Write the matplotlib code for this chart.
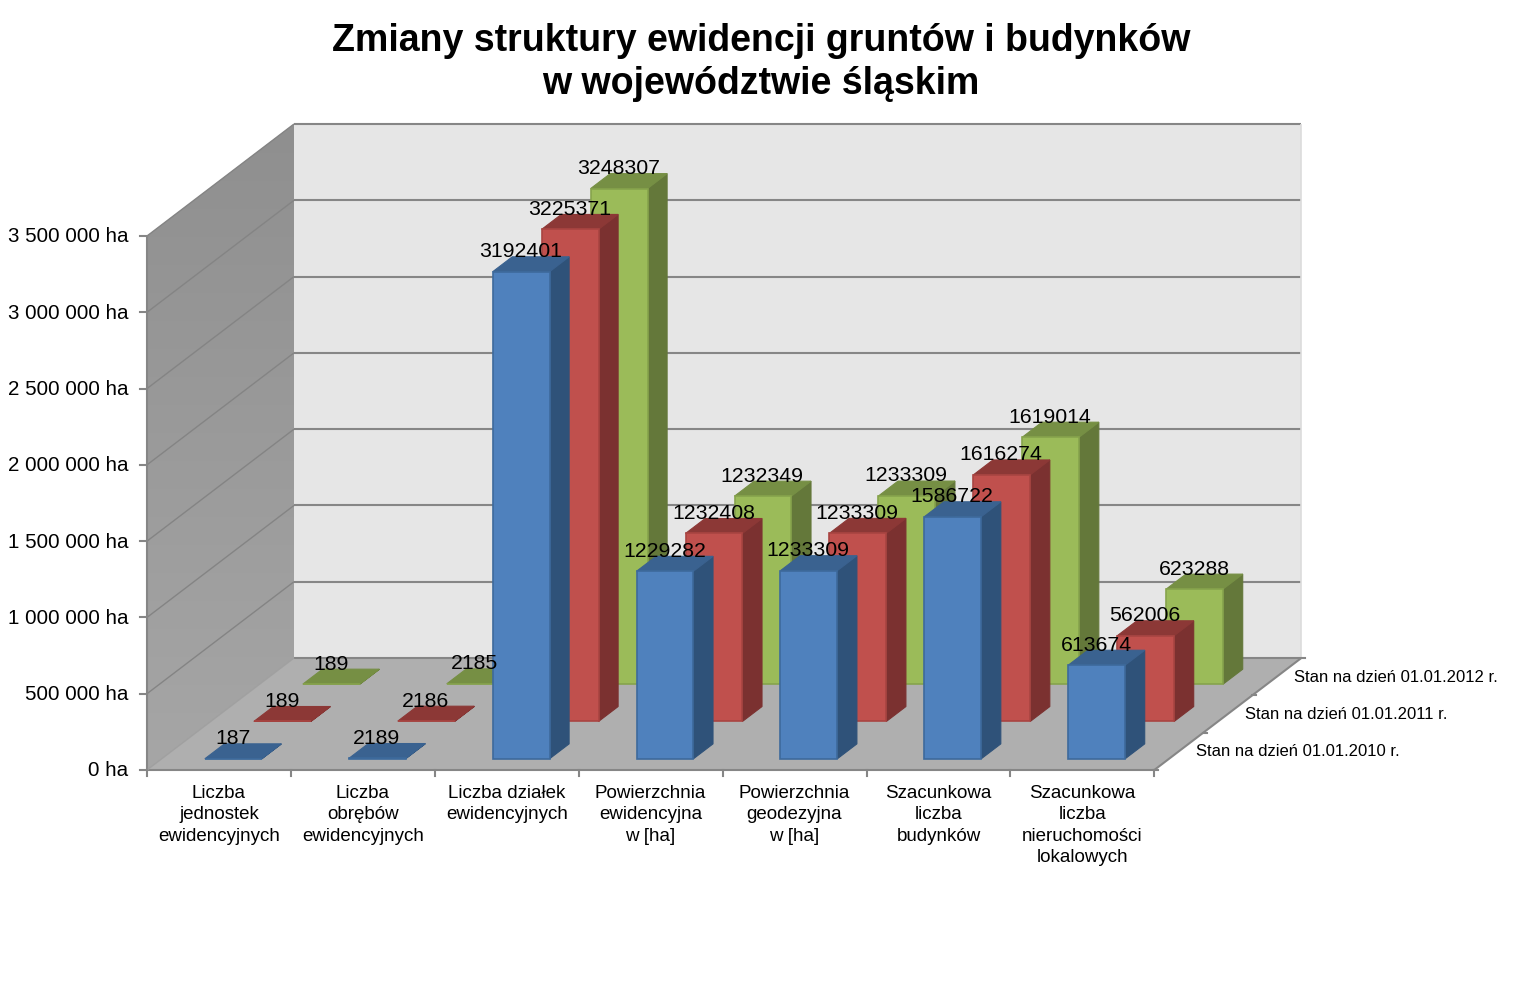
import numpy as np
import matplotlib
matplotlib.use("Agg")
import matplotlib.pyplot as plt
from matplotlib.patches import Polygon

plt.rcParams['font.family'] = ['Liberation Sans', 'DejaVu Sans']

categories = ["Liczba\njednostek\newidencyjnych", "Liczba\nobrębów\newidencyjnych",
              "Liczba działek\newidencyjnych", "Powierzchnia\newidencyjna\nw [ha]",
              "Powierzchnia\ngeodezyjna\nw [ha]", "Szacunkowa\nliczba\nbudynków",
              "Szacunkowa\nliczba\nnieruchomości\nlokalowych"]
series_names = ["Stan na dzień 01.01.2010 r.", "Stan na dzień 01.01.2011 r.", "Stan na dzień 01.01.2012 r."]
values_2010 = [187, 2189, 3192401, 1229282, 1233309, 1586722, 613674]
values_2011 = [189, 2186, 3225371, 1232408, 1233309, 1616274, 562006]
values_2012 = [189, 2185, 3248307, 1232349, 1233309, 1619014, 623288]
value_ticks = [0, 500000, 1000000, 1500000, 2000000, 2500000, 3000000, 3500000]
tick_labels = ["0 ha", "500 000 ha", "1 000 000 ha", "1 500 000 ha", "2 000 000 ha",
               "2 500 000 ha", "3 000 000 ha", "3 500 000 ha"]
all_values = [values_2010, values_2011, values_2012]

# colours per series: front, side, top, edge
colors = [("#4f81bd", "#2f5279", "#3a6290", "#3d6a9c"),
          ("#c0504d", "#7b3130", "#8c3836", "#a94542"),
          ("#9bbb59", "#64783a", "#768f44", "#86a34c")]

# oblique projection of the 3d chart onto image pixels
X0, Y0 = 147, 770
CAT_W = 143.9
DEPTH_X, DEPTH_Y = 49, -37.33
VAL_H = 534 / 3500000
BAR_L, BAR_R = 0.3, 0.695
N_CAT = len(categories)
N_SER = len(all_values)
VMAX = value_ticks[-1]


def project(cat, depth, value):
    return (X0 + cat * CAT_W + depth * DEPTH_X, Y0 + depth * DEPTH_Y - value * VAL_H)


def face(ax, corners, **kw):
    p = Polygon([project(*c) for c in corners], closed=True, **kw)
    ax.add_patch(p)
    return p


def line(ax, a, b, color="#868686", lw=1.5):
    xa, ya = project(*a)
    xb, yb = project(*b)
    ax.plot([xa, xb], [ya, yb], color=color, lw=lw, solid_capstyle="butt", zorder=3)


fig = plt.figure(figsize=(15.25, 9.94), dpi=100)
ax = fig.add_axes([0, 0, 1, 1])

# walls and floor
face(ax, [(0, N_SER, 0), (N_CAT, N_SER, 0), (N_CAT, N_SER, VMAX), (0, N_SER, VMAX)],
     facecolor="#e6e6e6", edgecolor="none", zorder=1)
wall = face(ax, [(0, 0, 0), (0, N_SER, 0), (0, N_SER, VMAX), (0, 0, VMAX)],
            facecolor="#999999", edgecolor="none", zorder=1)
grad = np.linspace(0, 1, 256).reshape(-1, 1)
img = ax.imshow(grad, extent=(147, 294, 770, 124), cmap=matplotlib.colors.LinearSegmentedColormap.from_list(
    "wall", ["#8f8f8f", "#a6a6a6"]), aspect="auto", zorder=1.5)
img.set_clip_path(wall)
face(ax, [(0, 0, 0), (N_CAT, 0, 0), (N_CAT, N_SER, 0), (0, N_SER, 0)],
     facecolor="#afafaf", edgecolor="none", zorder=2)

# gridlines
for v in value_ticks:
    line(ax, (0, N_SER, v), (N_CAT, N_SER, v))
    if v > 0:
        line(ax, (0, 0, v), (0, N_SER, v), color="#848484", lw=1.0)
line(ax, (N_CAT, N_SER, 0), (N_CAT, N_SER, VMAX), color="#dcdcdc", lw=1.2)

# axes
line(ax, (0, 0, 0), (0, 0, VMAX))
line(ax, (0, 0, 0), (N_CAT, 0, 0))
line(ax, (N_CAT, 0, 0), (N_CAT, N_SER, 0))
line(ax, (0, 0, 0), (0, N_SER, 0), color="#a0a0a0", lw=1)
for v, lab in zip(value_ticks, tick_labels):
    x, y = project(0, 0, v)
    ax.plot([x - 7, x], [y, y], color="#868686", lw=1.5, zorder=3)
    ax.text(x - 19, y + 1, lab, ha="right", va="center", fontsize=14.75, color="black", zorder=30)
for i in range(N_CAT + 1):
    x, y = project(i, 0, 0)
    ax.plot([x, x], [y, y + 6], color="#868686", lw=1.5, zorder=3)
for s in range(N_SER + 1):
    x, y = project(N_CAT, s, 0)
    ax.plot([x, x + 4], [y, y], color="#868686", lw=1.5, zorder=3)

# bars, back row first
for s in range(N_SER - 1, -1, -1):
    front, side, top, edge = colors[s]
    z = 10 + (N_SER - s)
    for i, v in enumerate(all_values[s]):
        l, r = i + BAR_L, i + BAR_R
        d0, d1 = s + 0.3, s + 0.7
        face(ax, [(r, d0, 0), (r, d1, 0), (r, d1, v), (r, d0, v)],
             facecolor=side, edgecolor=side, lw=0.8, zorder=z)
        face(ax, [(l, d0, v), (r, d0, v), (r, d1, v), (l, d1, v)],
             facecolor=top, edgecolor=top, lw=0.8, zorder=z)
        face(ax, [(l, d0, 0), (r, d0, 0), (r, d0, v), (l, d0, v)],
             facecolor=front, edgecolor=edge, lw=1.2, zorder=z)
        x, y = project(i + 0.5, d0, v)
        ax.text(x - 1, y - 20, str(v), ha="center", va="center", fontsize=15.3, color="black", zorder=30)

# text labels
for i, lab in enumerate(categories):
    x, y = project(i + 0.5, 0, 0)
    ax.text(x, y + 15, lab, ha="center", va="top", fontsize=13.5, linespacing=1.34, zorder=30)
for s, name in enumerate(series_names):
    x, y = project(N_CAT, s + 0.5, 0)
    ax.text(x + 17, y + 0.5, name, ha="left", va="center", fontsize=12, zorder=30)

ax.text(761, 62.5, "Zmiany struktury ewidencji gruntów i budynków\nw województwie śląskim",
        ha="center", va="center", fontsize=27, fontweight="bold", linespacing=1.24, zorder=30)

ax.set_xlim(0, 1525)
ax.set_ylim(994, 0)
ax.axis("off")
fig.savefig("out.png", dpi=100, facecolor="white")
